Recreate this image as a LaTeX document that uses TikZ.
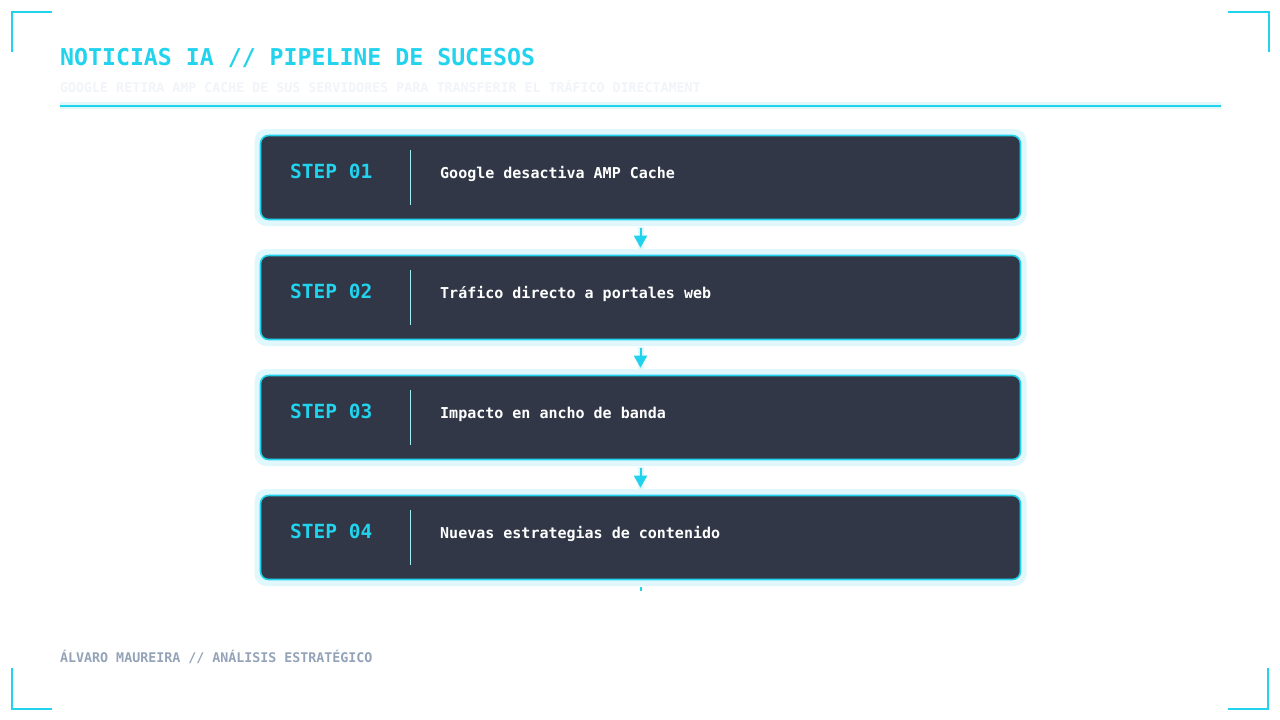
\documentclass[tikz,border=0pt]{standalone}
\usepackage{fontspec}
\setmainfont{DejaVu Sans Mono}
\usetikzlibrary{arrows.meta}
\definecolor{cyanA}{HTML}{22D3EE}
\definecolor{glowC}{HTML}{E0F8FC}
\definecolor{boxF}{HTML}{313746}
\definecolor{divC}{HTML}{A5EDF7}
\definecolor{subC}{HTML}{F1F4F8}
\definecolor{footC}{HTML}{94A3B8}
\tikzset{
  corner/.style={draw=cyanA, line width=2pt},
  glowbox/.style={draw=none, fill=glowC, rounded corners=12pt, minimum width=772pt, minimum height=97pt, inner sep=0pt},
  stepbox/.style={draw=cyanA, line width=1.6pt, fill=boxF, rounded corners=8pt, minimum width=760pt, minimum height=84pt, inner sep=0pt},
  steplabel/.style={anchor=base west, inner sep=0pt, text=cyanA, font=\bfseries\fontsize{19.5}{20}\selectfont},
  steptext/.style={anchor=base west, inner sep=0pt, text=white, font=\bfseries\fontsize{15}{15}\selectfont},
  divider/.style={draw=divC, line width=1pt},
  flow/.style={draw=cyanA, line width=2pt, -{Triangle[length=12pt,width=13pt]}},
  flowglow/.style={draw=glowC, line width=6pt},
}
\begin{document}
\begin{tikzpicture}[x=1pt,y=-1pt]
\useasboundingbox[fill=white] (0,0) rectangle (1280,720);
% corners
\draw[corner] (12,52) -- (12,12) -- (52,12);
\draw[corner] (1228,12) -- (1269,12) -- (1269,52);
\draw[corner] (12,668) -- (12,709) -- (52,709);
\draw[corner] (1228,709) -- (1268,709) -- (1268,668);
% header
\node[anchor=base west, inner sep=0pt, text=cyanA, font=\bfseries\fontsize{23.2}{23}\selectfont] (title) at (60,65) {NOTICIAS IA // PIPELINE DE SUCESOS};
\node[anchor=base west, inner sep=0pt, text=subC, font=\bfseries\fontsize{13.3}{13}\selectfont] (sub) at (60,92) {GOOGLE RETIRA AMP CACHE DE SUS SERVIDORES PARA TRANSFERIR EL TRÁFICO DIRECTAMENT};
\fill[glowC] (60,102) rectangle (1221,109);
\draw[cyanA, line width=2pt] (60,105.5) -- (1221,105.5);
% steps
\foreach \i/\y/\lab/\txt in {1/177.5/STEP 01/Google desactiva AMP Cache,
                             2/297.5/STEP 02/Tráfico directo a portales web,
                             3/417.5/STEP 03/Impacto en ancho de banda,
                             4/537.5/STEP 04/Nuevas estrategias de contenido}{
  \node[glowbox] (g\i) at (640.5,\y) {};
  \node[stepbox] (b\i) at (640.5,\y) {};
  \node[steplabel] (l\i) at (290,\y+0.5) {\lab};
  \draw[divider] (410,\y-27.5) -- (410,\y+27.5);
  \node[steptext] (t\i) at (440,\y+1) {\txt};
}
% connectors
\foreach \a/\b in {1/2,2/3,3/4}{
  \draw[flowglow, shorten <=7pt, shorten >=5pt] (b\a.south) -- (b\b.north);
  \draw[flow, shorten <=8pt, shorten >=7pt] (b\a.south) -- (b\b.north);
}
\coordinate (end) at (640.5,591);
\draw[cyanA, line width=2pt, shorten <=7pt] (b4.south) -- (end);
% footer
\node[anchor=base west, inner sep=0pt, text=footC, font=\bfseries\fontsize{13.3}{13}\selectfont] (foot) at (60,662) {ÁLVARO MAUREIRA // ANÁLISIS ESTRATÉGICO};
\end{tikzpicture}
\end{document}
